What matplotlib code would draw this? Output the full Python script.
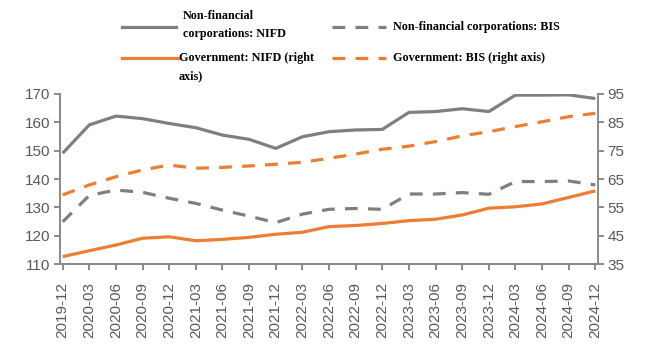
import matplotlib
matplotlib.use("Agg")
import matplotlib.pyplot as plt
from matplotlib.lines import Line2D

quarters = ["2019-12", "2020-03", "2020-06", "2020-09", "2020-12", "2021-03", "2021-06",
            "2021-09", "2021-12", "2022-03", "2022-06", "2022-09", "2022-12", "2023-03",
            "2023-06", "2023-09", "2023-12", "2024-03", "2024-06", "2024-09", "2024-12"]

nfc_nifd = [149.1, 159.1, 162.2, 161.3, 159.6, 158.1, 155.5, 154.0, 150.8, 154.9, 156.7,
            157.3, 157.5, 163.5, 163.8, 164.8, 163.8, 169.6, 169.6, 169.7, 168.4]
nfc_bis = [124.9, 134.2, 136.1, 135.3, 133.2, 131.4, 129.0, 126.9, 124.6, 127.6, 129.3,
           129.6, 129.3, 134.7, 134.7, 135.2, 134.6, 139.1, 139.1, 139.3, 137.9]
gov_nifd = [37.6, 39.7, 41.7, 44.1, 44.6, 43.2, 43.7, 44.4, 45.5, 46.2, 48.2,
            48.6, 49.3, 50.3, 50.8, 52.3, 54.7, 55.2, 56.2, 58.5, 60.8]
gov_bis = [59.4, 62.9, 65.8, 68.2, 69.9, 68.8, 69.1, 69.6, 70.2, 70.9, 72.3,
           73.8, 75.5, 76.6, 78.2, 80.2, 81.7, 83.5, 85.2, 87.0, 88.2]

left_ticks = [110, 120, 130, 140, 150, 160, 170]
right_ticks = [35, 45, 55, 65, 75, 85, 95]

GRAY = "#7f7f7f"
ORANGE = "#ed7d31"
AXC = "#898989"
TXT = "#595959"
LW = 2.3
DASH = (4.0, 3.2)

plt.rcParams["font.family"] = ["Liberation Sans", "DejaVu Sans"]

fig = plt.figure(figsize=(6.5, 3.54), dpi=100)
ax = fig.add_axes([0.0923, 0.2542, 0.8277, 0.4803])
ax2 = ax.twinx()

x = list(range(len(quarters)))
ax.plot(x, nfc_nifd, color=GRAY, lw=LW, solid_capstyle="butt")
ax.plot(x, nfc_bis, color=GRAY, lw=LW, dashes=DASH)
ax2.plot(x, gov_nifd, color=ORANGE, lw=LW, solid_capstyle="butt")
ax2.plot(x, gov_bis, color=ORANGE, lw=LW, dashes=DASH)

ax.set_xlim(-0.1, 20.1)
ax.set_ylim(110, 170)
ax2.set_ylim(35, 95)
ax.set_yticks(left_ticks)
ax2.set_yticks(right_ticks)
ax.set_xticks(x)
ax.set_xticklabels(quarters, rotation=90)

for a in (ax, ax2):
    for s in a.spines.values():
        s.set_color(AXC)
        s.set_linewidth(1.4)
    a.spines["top"].set_visible(False)
    a.tick_params(colors=AXC, labelcolor=TXT, labelsize=11, width=1.4, length=4)
ax.spines["right"].set_visible(False)
ax2.spines["left"].set_visible(False)
ax.tick_params(axis="x", pad=9)
ax.tick_params(axis="y", pad=3)
ax2.tick_params(axis="y", pad=3)

# Legend (manual, Excel-like layout)
W, H = 650.0, 354.0
def key(x0, x1, y, color, dashed):
    kw = dict(color=color, lw=LW, transform=fig.transFigure)
    if dashed:
        kw["dashes"] = DASH
    fig.add_artist(Line2D([x0 / W, x1 / W], [1 - y / H, 1 - y / H], **kw))

lfont = dict(family=["Liberation Serif", "DejaVu Serif"], weight="bold", size=8.7, color="#000000")
key(122, 176, 27, GRAY, False)
fig.text(183 / W, 1 - 25 / H, "Non-financial\ncorporations: NIFD", va="center", ha="left",
         linespacing=1.65, **lfont)
key(332, 386, 27, GRAY, True)
fig.text(393 / W, 1 - 27 / H, "Non-financial corporations: BIS", va="center", ha="left", **lfont)
key(122, 178, 58, ORANGE, False)
fig.text(179 / W, 1 - 52 / H, "Government: NIFD (right\naxis)", va="top", ha="left",
         linespacing=1.65, **lfont)
key(332, 386, 58, ORANGE, True)
fig.text(393 / W, 1 - 58 / H, "Government: BIS (right axis)", va="center", ha="left", **lfont)

fig.savefig("out.png", dpi=100, facecolor="white")
